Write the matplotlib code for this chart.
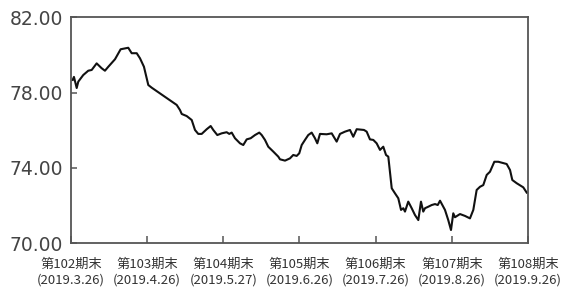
import matplotlib
matplotlib.use("Agg")
import matplotlib.pyplot as plt

# position along the x axis in periods (0 = end of period 102), value
pos = [0.022, 0.039, 0.075, 0.096, 0.161, 0.227, 0.272, 0.337, 0.403, 0.446,
       0.490, 0.578, 0.652, 0.752, 0.797, 0.863, 0.906, 0.958, 1.015, 1.059,
       1.388, 1.431, 1.454, 1.519, 1.585, 1.628, 1.671, 1.716, 1.782, 1.834,
       1.868, 1.921, 1.978, 2.044, 2.078, 2.110, 2.153, 2.219, 2.262, 2.307,
       2.359, 2.416, 2.472, 2.504, 2.547, 2.590, 2.656, 2.722, 2.744, 2.810,
       2.875, 2.918, 2.963, 2.997, 3.029, 3.072, 3.115, 3.160, 3.203, 3.234,
       3.269, 3.357, 3.423, 3.488, 3.532, 3.597, 3.663, 3.706, 3.751, 3.847,
       3.882, 3.925, 3.969, 4.013, 4.057, 4.100, 4.136, 4.166, 4.211, 4.254,
       4.297, 4.333, 4.363, 4.385, 4.428, 4.473, 4.516, 4.560, 4.595, 4.625,
       4.648, 4.691, 4.736, 4.779, 4.815, 4.845, 4.910, 4.953, 4.989, 5.019,
       5.041, 5.107, 5.173, 5.238, 5.282, 5.326, 5.370, 5.413, 5.458, 5.501,
       5.558, 5.610, 5.720, 5.764, 5.794, 5.851, 5.938, 5.983]
value = [78.67, 78.83, 78.24, 78.58, 78.93, 79.16, 79.20, 79.55, 79.29, 79.16,
         79.37, 79.77, 80.30, 80.38, 80.09, 80.09, 79.82, 79.37, 78.40, 78.26,
         77.34, 77.07, 76.86, 76.75, 76.54, 76.01, 75.80, 75.80, 76.05, 76.22,
         76.01, 75.74, 75.83, 75.89, 75.80, 75.87, 75.57, 75.30, 75.21, 75.51,
         75.57, 75.74, 75.87, 75.74, 75.48, 75.12, 74.86, 74.59, 74.45, 74.38,
         74.50, 74.68, 74.63, 74.77, 75.21, 75.48, 75.74, 75.87, 75.57, 75.30,
         75.80, 75.78, 75.83, 75.39, 75.80, 75.92, 76.01, 75.65, 76.05, 76.01,
         75.92, 75.51, 75.48, 75.30, 74.95, 75.12, 74.68, 74.59, 72.91, 72.64,
         72.38, 71.76, 71.85, 71.67, 72.20, 71.85, 71.49, 71.22, 72.20, 71.67,
         71.85, 71.93, 72.02, 72.07, 72.02, 72.25, 71.76, 71.22, 70.69, 71.58,
         71.37, 71.54, 71.44, 71.31, 71.76, 72.82, 72.99, 73.08, 73.62, 73.79,
         74.32, 74.32, 74.20, 73.88, 73.35, 73.18, 72.96, 72.68]

periods = ["第102期末", "第103期末", "第104期末", "第105期末",
           "第106期末", "第107期末", "第108期末"]
dates = ["(2019.3.26)", "(2019.4.26)", "(2019.5.27)", "(2019.6.26)",
         "(2019.7.26)", "(2019.8.26)", "(2019.9.26)"]
yticks = [70, 74, 78, 82]

fig = plt.figure(figsize=(5.62, 2.93), dpi=100)
ax = fig.add_axes([0.1263, 0.1706, 0.8132, 0.7704])

ax.plot(pos, value, color="#111111", linewidth=1.5)

ax.set_xlim(0, len(periods) - 1)
ax.set_ylim(yticks[0], yticks[-1])
ax.set_yticks(yticks)
ax.set_yticklabels([f"{v:.2f}" for v in yticks], fontsize=13.5, color="#444444")
ax.set_xticks(range(len(periods)))
ax.set_xticklabels([p + "\n" + d for p, d in zip(periods, dates)],
                   family=["Noto Sans CJK SC", "DejaVu Sans"], fontsize=9.5,
                   color="#333333", linespacing=1.25)

ax.tick_params(axis="both", direction="in", color="#555555", width=1.1)
ax.tick_params(axis="x", length=5, pad=11)
ax.tick_params(axis="y", length=4, pad=6)

for s in ax.spines.values():
    s.set_color("#555555")
    s.set_linewidth(1.3)

fig.savefig("out.png", dpi=100, facecolor="white")
